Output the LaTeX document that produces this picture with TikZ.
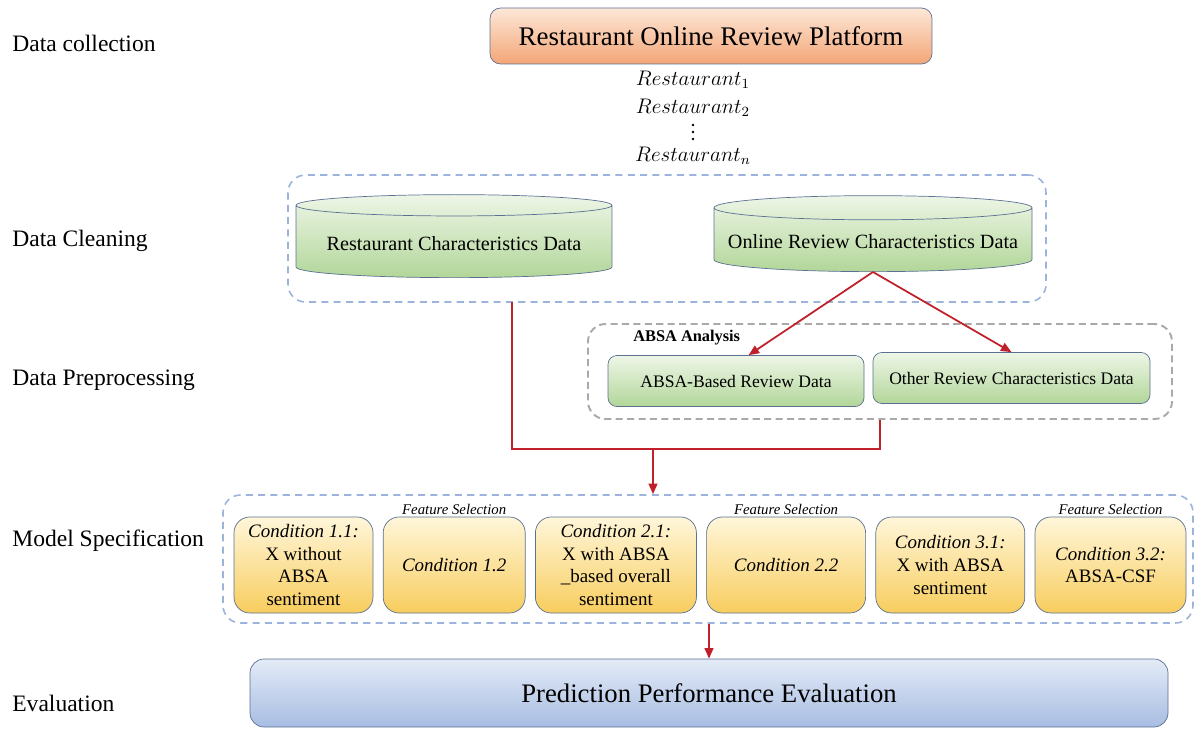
\documentclass[tikz,border=0pt]{standalone}
\usepackage{fontspec}
\setmainfont{Liberation Serif}
\usepackage{tikz}
\usetikzlibrary{arrows.meta,positioning,shapes.geometric}

\definecolor{lineblue}{HTML}{5B7092}
\definecolor{dashblue}{HTML}{9CB3DC}
\definecolor{dashgray}{HTML}{A9A9A9}
\definecolor{arrowred}{HTML}{C0202A}
\definecolor{peachtop}{HTML}{FDE7D8}
\definecolor{peachbot}{HTML}{F3A676}
\definecolor{greentop}{HTML}{EEF6E7}
\definecolor{greenbot}{HTML}{B2D699}
\definecolor{goldtop}{HTML}{FFF6DA}
\definecolor{goldbot}{HTML}{F8CD5E}
\definecolor{bluetop}{HTML}{E4EBF7}
\definecolor{bluebot}{HTML}{A7BDE2}

\begin{document}
\begin{tikzpicture}[
  node distance=0.19cm,
  stage/.style={anchor=west, inner sep=0pt, font=\fontsize{13.4}{16}\selectfont},
  platform/.style={draw=lineblue, rounded corners=6pt, top color=peachtop, bottom color=peachbot, minimum width=8.84cm, minimum height=1.12cm, font=\fontsize{15.3}{18}\selectfont},
  rest/.style={inner sep=0pt, font=\fontsize{11.5}{14}\selectfont},
  store/.style={cylinder, shape border rotate=90, shape aspect=0.08, anchor=bottom, draw=lineblue, top color=greentop, bottom color=greenbot, font=\fontsize{11.5}{14}\selectfont},
  databox/.style={draw=lineblue, rounded corners=5pt, top color=greentop, bottom color=greenbot, minimum height=1.02cm, font=\fontsize{10}{12}\selectfont},
  cond/.style={draw=lineblue, rounded corners=9pt, top color=goldtop, bottom color=goldbot, minimum height=1.92cm, inner sep=2pt, align=center, font=\fontsize{10.8}{13}\selectfont},
  featsel/.style={inner sep=1pt, font=\fontsize{8.4}{10}\selectfont\itshape},
  evalbox/.style={draw=lineblue, rounded corners=8pt, top color=bluetop, bottom color=bluebot, minimum width=18.36cm, minimum height=1.36cm, font=\fontsize{15.2}{18}\selectfont},
  phase/.style={draw=dashblue, line width=0.9pt, dash pattern=on 4pt off 3pt, rounded corners=10pt, inner sep=0pt},
  absaphase/.style={draw=dashgray, line width=1.1pt, dash pattern=on 4pt off 2.5pt, rounded corners=10pt, inner sep=0pt},
  redline/.style={draw=arrowred, line width=1pt},
  redarrow/.style={redline, -{Triangle[length=6pt,width=5pt]}}
]
\useasboundingbox (0,0) rectangle (23.92,-14.58);

% stage labels
\node[stage] (s1) at (0.24,-0.86) {Data collection};
\node[stage] (s2) at (0.24,-4.82) {Data Cleaning};
\node[stage] (s3) at (0.24,-7.60) {Data Preprocessing};
\node[stage] (s4) at (0.24,-10.82) {Model Specification};
\node[stage] (s5) at (0.24,-14.06) {Evaluation};

% data collection
\node[platform] (platform) at (14.22,-0.72) {Restaurant Online Review Platform};
\node[rest] (r1) at (13.86,-1.60) {$Restaurant_1$};
\node[rest] (r2) at (13.86,-2.16) {$Restaurant_2$};
\node[rest] (rn) at (13.86,-3.12) {$Restaurant_n$};
\foreach \y in {-2.50,-2.64,-2.78}
  \fill (13.86,\y) circle (0.8pt);

% data cleaning
\node[phase, minimum width=15.16cm, minimum height=2.54cm] (clean) at (13.34,-4.77) {};
\node[store, minimum width=6.32cm, minimum height=1.66cm] (rcd) at (9.08,-5.56) {Restaurant Characteristics Data};
\node[store, minimum width=6.36cm, minimum height=1.52cm] (orcd) at (17.46,-5.44) {Online Review Characteristics Data};

% data preprocessing
\node[absaphase, minimum width=11.68cm, minimum height=1.9cm] (prep) at (17.60,-7.43) {};
\node[anchor=west, inner sep=0pt, font=\fontsize{9.3}{11}\selectfont\bfseries] (absalabel) at (12.66,-6.76) {ABSA Analysis};
\node[databox, minimum width=5.12cm] (absa) at (14.72,-7.62) {ABSA-Based Review Data};
\node[databox, minimum width=5.54cm] (other) at (20.23,-7.56) {Other Review Characteristics Data};

% model specification
\node[phase, minimum width=19.4cm, minimum height=2.56cm] (model) at (14.16,-11.18) {};
\node[cond, minimum width=2.78cm] (c11) at (6.07,-11.30) {\textit{Condition 1.1:}\\X without\\ABSA\\sentiment};
\node[cond, minimum width=2.84cm, right=of c11] (c12) {\textit{Condition 1.2}};
\node[cond, minimum width=3.22cm, right=of c12] (c21) {\textit{Condition 2.1:}\\X with ABSA\\\_based overall\\sentiment};
\node[cond, minimum width=3.18cm, right=of c21] (c22) {\textit{Condition 2.2}};
\node[cond, minimum width=2.98cm, right=of c22] (c31) {\textit{Condition 3.1:}\\X with ABSA\\sentiment};
\node[cond, minimum width=3.02cm, right=of c31] (c32) {\textit{Condition 3.2:}\\ABSA-CSF};
\node[featsel, above=0pt of c12] (fs12) {Feature Selection};
\node[featsel, above=0pt of c22] (fs22) {Feature Selection};
\node[featsel, above=0pt of c32] (fs32) {Feature Selection};

% evaluation
\node[evalbox] (eval) at (14.18,-13.86) {Prediction Performance Evaluation};

% connectors
\coordinate (cleanout) at (10.24,-6.04);
\coordinate (merge) at (13.06,-8.98);
\draw[redarrow] (orcd.bottom) -- (absa.64);
\draw[redarrow] (orcd.bottom) -- (other.north);
\draw[redline] (cleanout) |- (merge) -| (prep.south);
\draw[redarrow] (merge) -- (merge |- model.north);
\draw[redarrow] (eval.north |- model.south) -- (eval.north);
\end{tikzpicture}
\end{document}
